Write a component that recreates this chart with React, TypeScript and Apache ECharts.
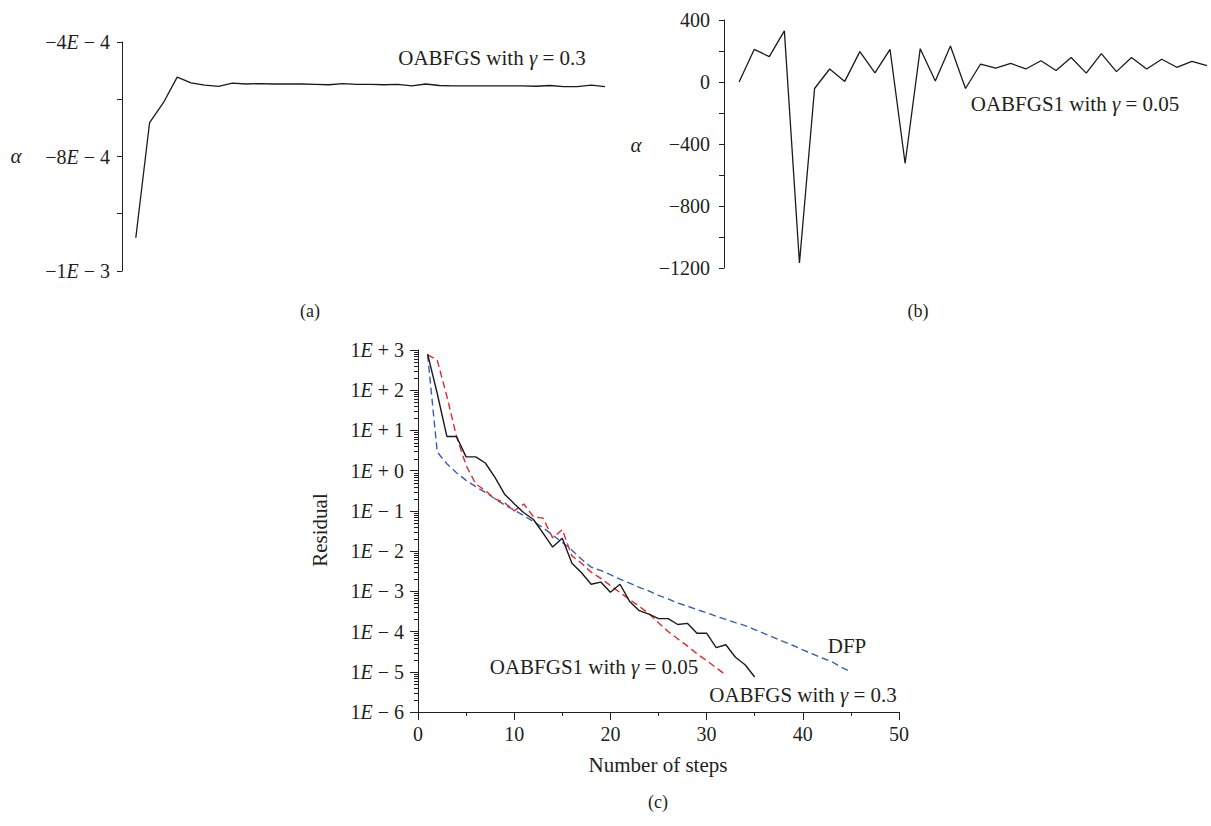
import React, { useEffect, useRef } from "react";
import * as echarts from "echarts";

const FONT = '"Liberation Serif", "DejaVu Serif", "Times New Roman", serif';
const INK = "#231f20";

// (a) step size α of OABFGS with γ = 0.3, one value per step (steps 1..35)
const alphaOABFGS = [
  -9.13e-4, -6.11e-4, -5.59e-4, -4.92e-4, -5.07e-4, -5.13e-4, -5.16e-4, -5.08e-4, -5.1e-4,
  -5.09e-4, -5.1e-4, -5.1e-4, -5.1e-4, -5.11e-4, -5.12e-4, -5.09e-4, -5.11e-4, -5.11e-4,
  -5.12e-4, -5.11e-4, -5.15e-4, -5.1e-4, -5.14e-4, -5.15e-4, -5.15e-4, -5.15e-4, -5.15e-4,
  -5.15e-4, -5.15e-4, -5.16e-4, -5.14e-4, -5.17e-4, -5.17e-4, -5.13e-4, -5.17e-4,
];
const alphaTickValues = [-1e-3, -8.5e-4, -7e-4, -5.5e-4, -4e-4];
const alphaTickLabels = ["−1{i|E} − 3", "", "−8{i|E} − 4", "", "−4{i|E} − 4"];

// (b) step size α of OABFGS1 with γ = 0.05 (steps 1..32)
const alphaOABFGS1 = [
  0, 210, 164, 330, -1168, -42, 84, 4, 196, 59, 210, -526, 215, 6, 232, -42, 116, 90, 120, 84,
  137, 74, 158, 57, 183, 67, 158, 84, 147, 95, 133, 105,
];

// (c) residual per step
const residualOABFGS = [
  790, 83, 7.1, 7.1, 2.2, 2.2, 1.55, 0.68, 0.26, 0.15, 0.09, 0.061, 0.028, 0.0126, 0.021,
  0.005, 0.0029, 0.0015, 0.0017, 9.5e-4, 1.5e-3, 5.6e-4, 3.3e-4, 2.7e-4, 2.1e-4, 2.1e-4,
  1.5e-4, 1.6e-4, 9.1e-5, 9.1e-5, 4.0e-5, 4.7e-5, 2.3e-5, 1.5e-5, 7.4e-6,
];
const residualOABFGS1 = [
  760, 560, 71, 7.1, 1.35, 0.47, 0.32, 0.2, 0.16, 0.1, 0.148, 0.071, 0.066, 0.0214, 0.034,
  0.0076, 0.005, 0.003, 0.0021, 0.0014, 9.3e-4, 6.3e-4, 4.2e-4, 2.8e-4, 1.66e-4, 1.0e-4,
  6.6e-5, 4.4e-5, 2.8e-5, 1.9e-5, 1.26e-5, 8.3e-6,
];
const residualDFP = [
  760, 2.9, 1.48, 0.89, 0.575, 0.4, 0.29, 0.2, 0.141, 0.105, 0.076, 0.054, 0.038, 0.025,
  0.0166, 0.0105, 0.0063, 0.004, 0.0033, 0.0026, 0.002, 0.0016, 0.00126, 0.00102, 7.9e-4,
  6.5e-4, 5.1e-4, 4.3e-4, 3.5e-4, 2.95e-4, 2.4e-4, 2.0e-4, 1.66e-4, 1.41e-4, 1.12e-4, 8.9e-5,
  7.1e-5, 5.6e-5, 4.5e-5, 3.5e-5, 2.8e-5, 2.2e-5, 1.8e-5, 1.3e-5, 1.0e-5,
];
const residualMinExp = -6;
const residualMaxExp = 3;
const minorLogMultipliers = [2, 3, 4, 5, 6, 7, 8, 9];
const stepTicks = { min: 0, max: 50, interval: 10 };

const toPairs = (vals: number[]) => vals.map((v, i) => [i + 1, v]);

// in-between ticks of the residual axis: 2..9 × 10^e
const minorLogTicks: number[] = [];
for (let e = residualMinExp; e < residualMaxExp; e++) {
  for (const m of minorLogMultipliers) minorLogTicks.push(m * Math.pow(10, e));
}

const TICK_SIZE = 20;
const TEXT_SIZE = 21;
const PLOT_C = { left: 418, top: 350, width: 481, height: 362 };

const italicRich = (size: number) => ({
  i: { fontStyle: "italic", fontFamily: FONT, fontSize: size, color: INK },
});

const textEl = (
  text: string,
  x: number,
  y: number,
  opts: { size?: number; italic?: boolean; rotation?: number } = {}
) => ({
  type: "text",
  x,
  y,
  rotation: opts.rotation || 0,
  style: {
    text,
    fill: INK,
    fontFamily: FONT,
    fontSize: opts.size || TEXT_SIZE,
    fontStyle: opts.italic ? "italic" : "normal",
    align: "center",
    verticalAlign: "middle",
    rich: {
      g: { fontStyle: "italic", fontFamily: FONT, fontSize: opts.size || TEXT_SIZE, fill: INK },
    },
  },
});

// short ticks for 2..9 × 10^e along the residual axis
const logMinorTickEls = () =>
  minorLogTicks.map((v) => {
    const frac = (residualMaxExp - Math.log10(v)) / (residualMaxExp - residualMinExp);
    const y = Math.round(PLOT_C.top + PLOT_C.height * frac) + 0.5;
    return {
      type: "line",
      silent: true,
      shape: { x1: PLOT_C.left - 4, y1: y, x2: PLOT_C.left, y2: y },
      style: { stroke: INK, lineWidth: 1 },
    };
  });

export default function App() {
  const ref = useRef<HTMLDivElement>(null);

  useEffect(() => {
    if (!ref.current) return;
    const chart = echarts.init(ref.current, undefined, { renderer: "svg" });
    const axisLine = { show: true, onZero: false, lineStyle: { color: INK, width: 1 } };
    const tickStyle = { color: INK, width: 1 };
    const labelBase = { color: INK, fontFamily: FONT, fontSize: TICK_SIZE };

    chart.setOption({
      animation: false,
      backgroundColor: "#ffffff",
      grid: [
        { left: 122, top: 42, width: 483, height: 229 },
        { left: 724, top: 20, width: 483, height: 248 },
        PLOT_C,
      ],
      xAxis: [
        { gridIndex: 0, type: "value", min: 0, max: alphaOABFGS.length, show: false },
        { gridIndex: 1, type: "value", min: 0, max: alphaOABFGS1.length, show: false },
        {
          gridIndex: 2,
          type: "value",
          min: stepTicks.min,
          max: stepTicks.max,
          interval: stepTicks.interval,
          axisLine,
          axisTick: { show: true, length: 8, lineStyle: tickStyle },
          minorTick: { show: true, splitNumber: 2, length: 4, lineStyle: tickStyle },
          axisLabel: { ...labelBase, margin: 12 },
          splitLine: { show: false },
        },
      ],
      yAxis: [
        {
          gridIndex: 0,
          type: "value",
          min: alphaTickValues[0],
          max: alphaTickValues[alphaTickValues.length - 1],
          axisLine,
          axisTick: { show: true, length: 5, customValues: alphaTickValues, lineStyle: tickStyle },
          axisLabel: {
            ...labelBase,
            margin: 12,
            customValues: alphaTickValues.filter((_, i) => alphaTickLabels[i] !== ""),
            formatter: (v: number) => {
              let best = 0;
              alphaTickValues.forEach((t, i) => {
                if (Math.abs(t - v) < Math.abs(alphaTickValues[best] - v)) best = i;
              });
              return alphaTickLabels[best];
            },
            rich: italicRich(TICK_SIZE),
          },
          splitLine: { show: false },
        },
        {
          gridIndex: 1,
          type: "value",
          min: -1200,
          max: 400,
          interval: 400,
          axisLine,
          axisTick: { show: true, length: 5, lineStyle: tickStyle },
          minorTick: { show: true, splitNumber: 2, length: 5, lineStyle: tickStyle },
          axisLabel: {
            ...labelBase,
            margin: 14,
            formatter: (v: number) => (v < 0 ? "−" + Math.abs(v) : String(v)),
          },
          splitLine: { show: false },
        },
        {
          gridIndex: 2,
          type: "log",
          logBase: 10,
          min: Math.pow(10, residualMinExp),
          max: Math.pow(10, residualMaxExp),
          splitNumber: 9,
          axisLine,
          axisTick: { show: true, length: 8, lineStyle: tickStyle },
          axisLabel: {
            ...labelBase,
            margin: 14,
            formatter: (v: number) => {
              const e = Math.round(Math.log10(v));
              return "1{i|E} " + (e >= 0 ? "+" : "−") + " " + Math.abs(e);
            },
            rich: italicRich(TICK_SIZE),
          },
          splitLine: { show: false },
        },
      ],
      series: [
        {
          type: "line",
          xAxisIndex: 0,
          yAxisIndex: 0,
          data: toPairs(alphaOABFGS),
          showSymbol: false,
          lineStyle: { color: "#1a1a1a", width: 1.3 },
        },
        {
          type: "line",
          xAxisIndex: 1,
          yAxisIndex: 1,
          data: toPairs(alphaOABFGS1),
          showSymbol: false,
          lineStyle: { color: "#1a1a1a", width: 1.3 },
        },
        {
          name: "DFP",
          type: "line",
          xAxisIndex: 2,
          yAxisIndex: 2,
          data: toPairs(residualDFP),
          showSymbol: false,
          lineStyle: { color: "#3a5cb4", width: 1.4, type: [7, 4] },
        },
        {
          name: "OABFGS1",
          type: "line",
          xAxisIndex: 2,
          yAxisIndex: 2,
          data: toPairs(residualOABFGS1),
          showSymbol: false,
          lineStyle: { color: "#e8262d", width: 1.4, type: [7, 4] },
        },
        {
          name: "OABFGS",
          type: "line",
          xAxisIndex: 2,
          yAxisIndex: 2,
          data: toPairs(residualOABFGS),
          showSymbol: false,
          lineStyle: { color: "#1a1a1a", width: 1.4 },
        },
      ],
      graphic: [
        textEl("α", 16, 156, { italic: true }),
        textEl("α", 636, 145, { italic: true }),
        textEl("OABFGS with {g|γ} = 0.3", 492, 58),
        textEl("OABFGS1 with {g|γ} = 0.05", 1075, 104),
        textEl("(a)", 310, 311, { size: 18 }),
        textEl("(b)", 918, 311, { size: 18 }),
        textEl("Residual", 320, 530, { rotation: Math.PI / 2 }),
        textEl("Number of steps", 658, 765),
        textEl("(c)", 658, 802, { size: 18 }),
        textEl("OABFGS1 with {g|γ} = 0.05", 594, 667),
        textEl("OABFGS with {g|γ} = 0.3", 803, 695),
        textEl("DFP", 847, 646),
        ...logMinorTickEls(),
      ],
    });

    return () => chart.dispose();
  }, []);

  return (
    <div
      ref={ref}
      style={{ position: "fixed", left: 0, top: 0, width: 1211, height: 826, background: "#fff" }}
    />
  );
}
